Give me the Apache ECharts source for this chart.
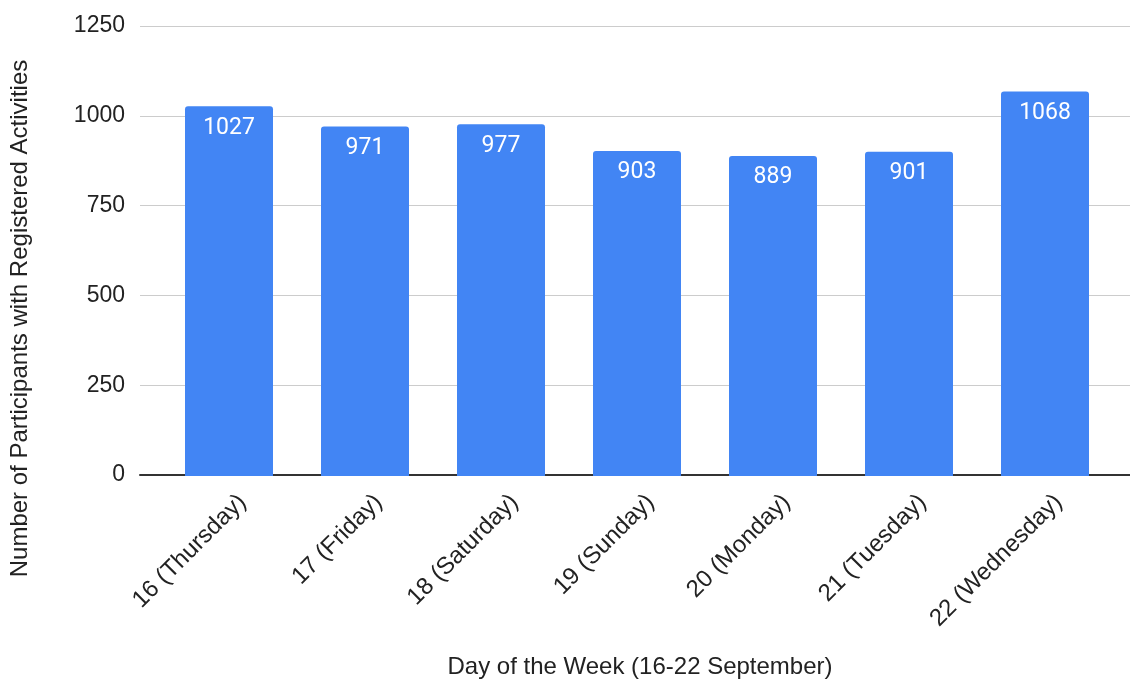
<!DOCTYPE html>
<html>
<head>
<meta charset="utf-8">
<script src="https://cdn.jsdelivr.net/npm/echarts@6/dist/echarts.min.js"></script>
<style>
  html, body { margin: 0; padding: 0; background: #fff; }
  #chart { width: 1130px; height: 684px; }
</style>
</head>
<body>
<div id="chart"></div>
<script>
// 每日参与人数
var days = ['16 (Thursday)', '17 (Friday)', '18 (Saturday)', '19 (Sunday)', '20 (Monday)', '21 (Tuesday)', '22 (Wednesday)'];
var participants = [1027, 971, 977, 903, 889, 901, 1068];
var yTicks = [0, 250, 500, 750, 1000, 1250];

var yMin = yTicks[0];
var yMax = yTicks[yTicks.length - 1];
var yStep = yTicks[1] - yTicks[0];

var chart = echarts.init(document.getElementById('chart'), null, { renderer: 'canvas' });

var option = {
    animation: false,
    // grid 0: 网格线 + 轴线, grid 1: 柱子
    grid: [
        { left: 137, right: 0, top: 26, bottom: 208 },
        { left: 161, width: 952, top: 26, bottom: 208 }
    ],
    xAxis: [{
        gridIndex: 0,
        type: 'value',
        min: 0,
        max: 1,
        name: 'Day of the Week (16-22 September)',
        nameLocation: 'middle',
        nameGap: 180,
        nameTextStyle: { fontFamily: 'Liberation Sans', fontSize: 24, color: '#222', padding: [0, 0, 0, 10] },
        axisLine: { show: true, lineStyle: { color: '#333', width: 2 } },
        axisTick: { show: false },
        axisLabel: { show: false },
        splitLine: { show: false }
    }, {
        gridIndex: 1,
        type: 'category',
        data: days,
        axisLine: { show: false },
        axisTick: { show: false },
        axisLabel: {
            interval: 0,
            rotate: 45,
            margin: 9,
            verticalAlign: 'top',
            padding: [7, 0, 0, 0],
            fontFamily: 'Liberation Sans',
            fontSize: 24,
            color: '#222'
        }
    }],
    yAxis: [{
        gridIndex: 0,
        type: 'value',
        min: yMin,
        max: yMax,
        interval: yStep,
        name: 'Number of Participants with Registered Activities',
        nameLocation: 'middle',
        nameGap: 108,
        nameTextStyle: { fontFamily: 'Liberation Sans', fontSize: 24, color: '#222', padding: [0, 136, 0, 0] },
        axisLine: { show: false },
        axisTick: { show: false },
        axisLabel: {
            margin: 15,
            fontFamily: 'Liberation Sans',
            fontSize: 23,
            color: '#222',
            formatter: function (v) { return String(v); }
        },
        splitLine: { lineStyle: { color: '#cccccc', width: 1 } }
    }, {
        gridIndex: 1,
        type: 'value',
        min: yMin,
        max: yMax,
        interval: yStep,
        show: false,
        splitLine: { show: false }
    }],
    series: [{
        type: 'bar',
        xAxisIndex: 1,
        yAxisIndex: 1,
        data: participants,
        barWidth: 88,
        itemStyle: { color: '#4285f4', borderRadius: [3, 3, 0, 0] },
        label: {
            show: true,
            position: 'insideTop',
            distance: 10,
            fontFamily: 'Roboto',
            fontSize: 23,
            color: '#fff'
        }
    }]
};

chart.setOption(option);
</script>
</body>
</html>
